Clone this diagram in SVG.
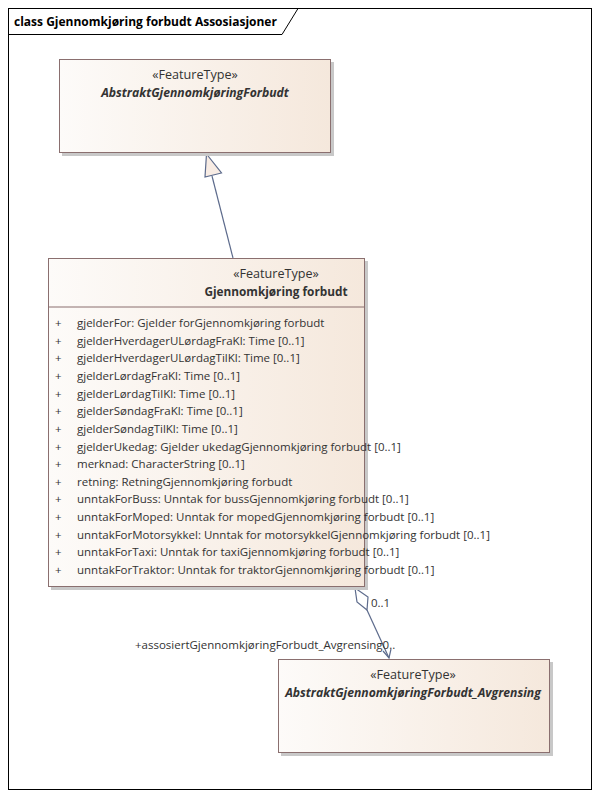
<svg xmlns="http://www.w3.org/2000/svg" width="600" height="798" viewBox="0 0 600 798">
<style>
text{font-family:"Open Sans","Liberation Sans",sans-serif;font-size:11.5px;fill:#333}
.c{text-anchor:middle}
.st{font-size:12.6px}
.b{font-weight:bold;font-size:11.8px}
.bi{font-weight:bold;font-style:italic;font-size:12.2px}
.box{fill:url(#g);stroke:#8a6f6f;stroke-width:1}
.sh{fill:#c8c8c8}
.ln{stroke:#5d6b8c;stroke-width:1.2;fill:none}
</style>
<defs>
<linearGradient id="g" x1="0" y1="0" x2="1" y2="0">
<stop offset="0" stop-color="#fdfbf9"/>
<stop offset="1" stop-color="#f5e8dc"/>
</linearGradient>
</defs>
<rect width="600" height="798" fill="#fff"/>
<g id="frame">
<rect x="8.5" y="8.5" width="583" height="781" fill="none" stroke="#000"/>
<path d="M8.5 34.5 H282 L298 8.5" fill="none" stroke="#000"/>
<text x="14" y="26" style="font-size:12px;font-weight:bold;fill:#000">class Gjennomkjøring forbudt Assosiasjoner</text>
</g>
<g id="connectors">
<line class="ln" x1="233" y1="258" x2="212" y2="176"/>
<polygon points="206.5,154 205,177 221.5,173" fill="#f8ece4" stroke="#5d6b8c" stroke-width="1.2"/>
<polyline class="ln" points="367,610 389,658"/>
<polygon points="355,588 368,597 367,610 357,602" fill="#fff" stroke="#5d6b8c" stroke-width="1.2"/>
<polyline class="ln" points="383,651 389,658 391,649"/>
<text x="371" y="607">0..1</text>
<text x="135" y="649">+assosiertGjennomkjøringForbudt_Avgrensing0..</text>
</g>
<g id="AbstraktGjennomkjoringForbudt">
<rect class="sh" x="62" y="62" width="272" height="94"/>
<rect class="box" x="59.5" y="59.5" width="271" height="93"/>
<text class="c st" x="195" y="79">«FeatureType»</text>
<text class="c bi" x="195" y="97">AbstraktGjennomkjøringForbudt</text>
</g>
<g id="GjennomkjoringForbudt">
<rect class="sh" x="51" y="261" width="317" height="329"/>
<rect class="box" x="48.5" y="258.5" width="316" height="328"/>
<line x1="48.5" y1="307" x2="364.5" y2="307" stroke="#8a6f6f"/>
<text class="c st" x="276" y="278">«FeatureType»</text>
<text class="c b" x="276" y="296">Gjennomkjøring forbudt</text>
<g>
<text x="55" y="327">+</text><text x="77" y="327">gjelderFor: Gjelder forGjennomkjøring forbudt</text>
<text x="55" y="344.6">+</text><text x="77" y="344.6">gjelderHverdagerULørdagFraKl: Time [0..1]</text>
<text x="55" y="362.3">+</text><text x="77" y="362.3">gjelderHverdagerULørdagTilKl: Time [0..1]</text>
<text x="55" y="379.9">+</text><text x="77" y="379.9">gjelderLørdagFraKl: Time [0..1]</text>
<text x="55" y="397.6">+</text><text x="77" y="397.6">gjelderLørdagTilKl: Time [0..1]</text>
<text x="55" y="415.2">+</text><text x="77" y="415.2">gjelderSøndagFraKl: Time [0..1]</text>
<text x="55" y="432.8">+</text><text x="77" y="432.8">gjelderSøndagTilKl: Time [0..1]</text>
<text x="55" y="450.5">+</text><text x="77" y="450.5">gjelderUkedag: Gjelder ukedagGjennomkjøring forbudt [0..1]</text>
<text x="55" y="468.1">+</text><text x="77" y="468.1">merknad: CharacterString [0..1]</text>
<text x="55" y="485.8">+</text><text x="77" y="485.8">retning: RetningGjennomkjøring forbudt</text>
<text x="55" y="503.4">+</text><text x="77" y="503.4">unntakForBuss: Unntak for bussGjennomkjøring forbudt [0..1]</text>
<text x="55" y="521">+</text><text x="77" y="521">unntakForMoped: Unntak for mopedGjennomkjøring forbudt [0..1]</text>
<text x="55" y="538.7">+</text><text x="77" y="538.7">unntakForMotorsykkel: Unntak for motorsykkelGjennomkjøring forbudt [0..1]</text>
<text x="55" y="556.3">+</text><text x="77" y="556.3">unntakForTaxi: Unntak for taxiGjennomkjøring forbudt [0..1]</text>
<text x="55" y="574">+</text><text x="77" y="574">unntakForTraktor: Unntak for traktorGjennomkjøring forbudt [0..1]</text>
</g>
</g>
<g id="AbstraktGjennomkjoringForbudt_Avgrensing">
<rect class="sh" x="281" y="662" width="272" height="94"/>
<rect class="box" x="278.5" y="659.5" width="271" height="93"/>
<text class="c st" x="413" y="679">«FeatureType»</text>
<text class="c bi" x="413" y="697">AbstraktGjennomkjøringForbudt_Avgrensing</text>
</g>
</svg>
